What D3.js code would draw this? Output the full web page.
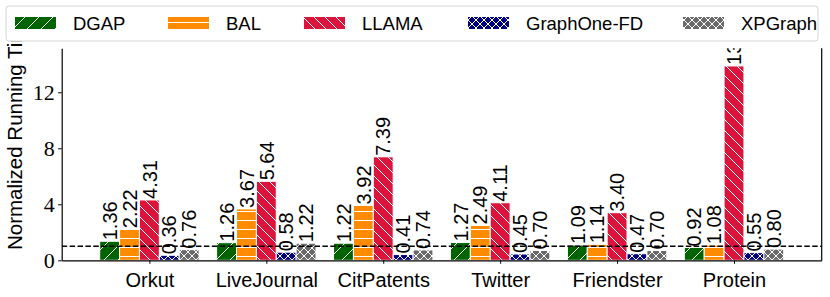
<!DOCTYPE html>
<html>
<head>
<meta charset="utf-8">
<script src="https://cdn.jsdelivr.net/npm/d3@7"></script>
<style>
  body { margin: 0; background: #fff; }
  svg { display: block; }
  .sans { font-family: "Liberation Sans", Arial, sans-serif; }
  .serif { font-family: "Liberation Serif", serif; }
</style>
</head>
<body>
<svg id="chart" width="830" height="297"></svg>
<script>
const categories = ["Orkut", "LiveJournal", "CitPatents", "Twitter", "Friendster", "Protein"];
const seriesNames = ["DGAP", "BAL", "LLAMA", "GraphOne-FD", "XPGraph"];
const dgap = [1.36, 1.26, 1.22, 1.27, 1.09, 0.92];
const bal = [2.22, 3.67, 3.92, 2.49, 1.14, 1.08];
const llama = [4.31, 5.64, 7.39, 4.11, 3.40, 13.88];
const graphOne = [0.36, 0.58, 0.41, 0.45, 0.47, 0.55];
const xpgraph = [0.76, 1.22, 0.74, 0.70, 0.70, 0.80];
const yTicks = [0, 4, 8, 12];
const baseline = 1;

const series = [dgap, bal, llama, graphOne, xpgraph];
const colors = ["#006400", "#ff8c00", "#dc143c", "#000080", "#696969"];
const hatches = ["fwd", "horiz", "back", "cross", "cross"];

const svg = d3.select("#chart");
const pLeft = 61.7, pRight = 821.7, pTop = 48.3, pBottom = 260.3;
const barW = 0.17;

const x = d3.scaleLinear().domain([-0.75, 5.75]).range([pLeft, pRight]);
const y = d3.scaleLinear().domain([0, 15.14]).range([pBottom, pTop]);

// hatch patterns
const defs = svg.append("defs");
function makePattern(id, color, kind) {
  let size = kind === "fwd" ? 14 : kind === "horiz" ? 9 : kind === "back" ? 11 : 8;
  const p = defs.append("pattern")
    .attr("id", id)
    .attr("patternUnits", "userSpaceOnUse")
    .attr("width", size).attr("height", size);
  p.append("rect").attr("width", size).attr("height", size).attr("fill", color);
  const ln = (x1, y1, x2, y2) => p.append("line")
    .attr("x1", x1).attr("y1", y1).attr("x2", x2).attr("y2", y2)
    .attr("stroke", "#fff").attr("stroke-width", 1);
  if (kind === "fwd") {
    ln(0, size, size, 0); ln(-size, size, size, -size); ln(0, 2 * size, 2 * size, 0);
  } else if (kind === "back") {
    ln(0, 0, size, size); ln(-size, 0, size, 2 * size); ln(0, -size, 2 * size, size);
  } else if (kind === "horiz") {
    ln(0, size / 2, size, size / 2);
  } else {
    ln(0, 0, size, size); ln(0, size, size, 0);
  }
}
series.forEach((s, k) => makePattern("hatch" + k, colors[k], hatches[k]));

svg.append("clipPath").attr("id", "plotClip")
  .append("rect").attr("x", pLeft).attr("y", pTop)
  .attr("width", pRight - pLeft).attr("height", pBottom - pTop);

// y label (partly hidden behind legend)
svg.append("text")
  .attr("class", "sans")
  .attr("transform", `translate(22,250) rotate(-90)`)
  .attr("font-size", 20.5)
  .text("Normalized Running Time");

// bars
const plot = svg.append("g").attr("clip-path", "url(#plotClip)");
series.forEach((vals, k) => {
  const off = (k - 2) * barW;
  plot.selectAll(".bar" + k)
    .data(vals)
    .enter()
    .append("rect")
    .attr("x", (d, i) => x(i + off - barW / 2))
    .attr("width", x(barW) - x(0))
    .attr("y", d => y(d))
    .attr("height", d => y(0) - y(d))
    .attr("fill", `url(#hatch${k})`)
    .attr("stroke", "#fff")
    .attr("stroke-width", 1);
});

// baseline dashed
plot.append("line")
  .attr("x1", pLeft).attr("x2", pRight)
  .attr("y1", y(baseline)).attr("y2", y(baseline))
  .attr("stroke", "#000").attr("stroke-width", 1.5)
  .attr("stroke-dasharray", "5.5,2.4");

// value labels
series.forEach((vals, k) => {
  const off = (k - 2) * barW;
  plot.selectAll(".lab" + k)
    .data(vals)
    .enter()
    .append("text")
    .attr("class", "sans")
    .attr("font-size", 20)
    .attr("transform", (d, i) => `translate(${x(i + off)},${y(d) - 1}) rotate(-90)`)
    .attr("dy", "0.36em")
    .text(d => d.toFixed(2));
});

// axes
const xAxis = d3.axisBottom(x).tickValues(d3.range(categories.length))
  .tickFormat(i => categories[i]).tickSize(3.5).tickSizeOuter(0);
const gx = svg.append("g").attr("transform", `translate(0,${pBottom})`).call(xAxis);
gx.select(".domain").attr("stroke", "#000").attr("stroke-width", 1.2);
gx.selectAll("text").attr("class", "sans").attr("font-size", 20).attr("fill", "#000").attr("dy", "1em");

const yAxis = d3.axisLeft(y).tickValues(yTicks).tickSize(3.5).tickSizeOuter(0);
const gy = svg.append("g").attr("transform", `translate(${pLeft},0)`).call(yAxis);
gy.select(".domain").attr("stroke", "#000").attr("stroke-width", 1.2);
gy.selectAll("text").attr("class", "serif").attr("font-size", 22).attr("fill", "#000").attr("x", -7);

svg.append("line")
  .attr("x1", pRight).attr("x2", pRight).attr("y1", pTop).attr("y2", pBottom)
  .attr("stroke", "#000").attr("stroke-width", 1.2);

// legend
const lg = svg.append("g");
lg.append("rect")
  .attr("x", 6).attr("y", 6).attr("width", 812).attr("height", 35).attr("rx", 3)
  .attr("fill", "#fff").attr("stroke", "#d6d6d6").attr("stroke-width", 1);
const swatchX = [15, 168, 304, 468, 683];
seriesNames.forEach((name, k) => {
  lg.append("rect")
    .attr("x", swatchX[k]).attr("y", 17).attr("width", 41).attr("height", 12)
    .attr("fill", `url(#hatch${k})`);
  lg.append("text")
    .attr("class", "sans")
    .attr("x", swatchX[k] + 58).attr("y", 29.5)
    .attr("font-size", 18.5)
    .text(name);
});
</script>
</body>
</html>
